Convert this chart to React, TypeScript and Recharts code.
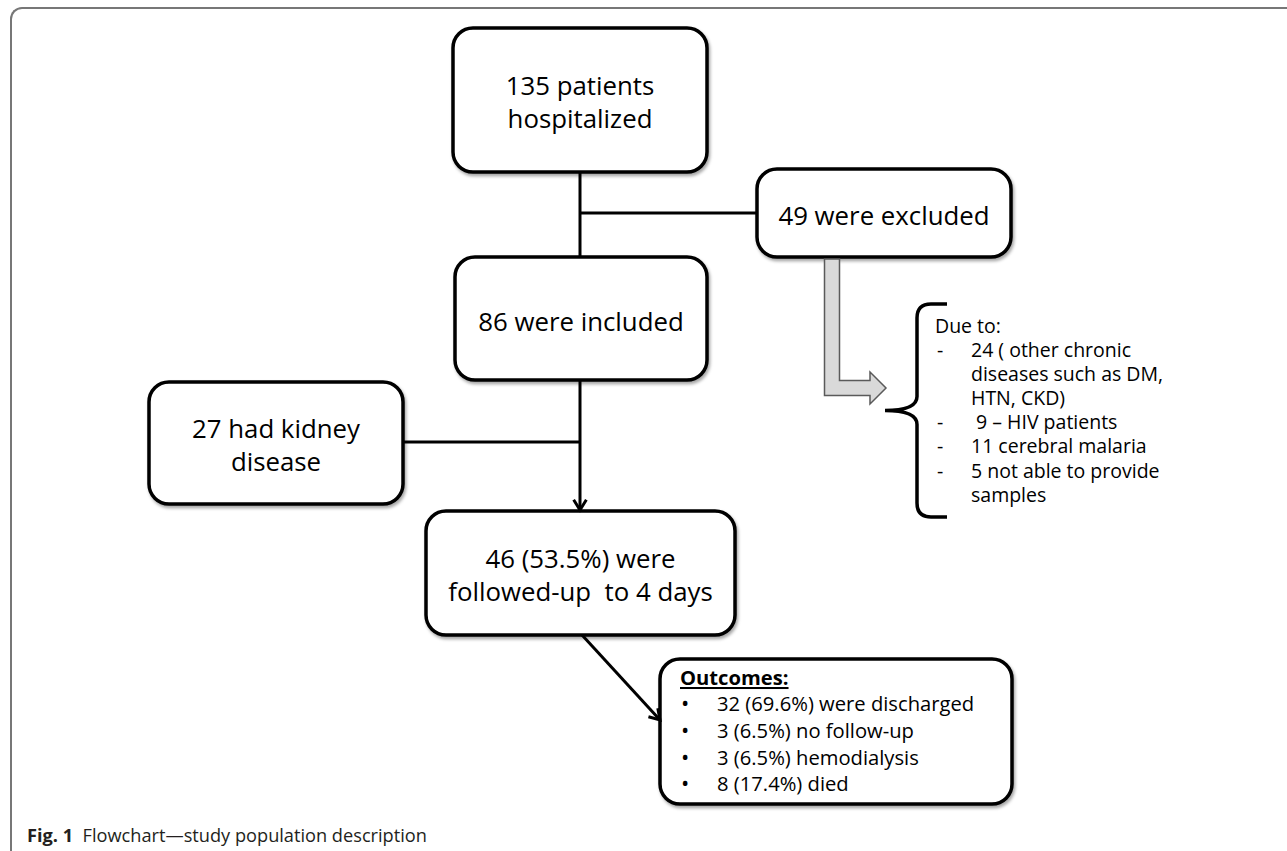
import { ScatterChart, XAxis, YAxis, ReferenceArea, ReferenceLine } from "recharts";

const W = 1287;
const H = 851;
const FONT = "'Open Sans', sans-serif";

// flow boxes (page coordinates, 1 unit = 1px)
const boxLeft = [453, 757, 455, 149, 426, 660];
const boxRight = [707, 1011, 707, 403, 735, 1012];
const boxTop = [28, 169, 257, 382, 511, 659];
const boxBottom = [172, 257, 380, 504, 635, 804];
const boxText = [
  ["135 patients", "hospitalized"],
  ["49 were excluded"],
  ["86 were included"],
  ["27 had kidney", "disease"],
  ["46 (53.5%) were", "followed-up  to 4 days"],
  [],
];

const outcomeTitle = "Outcomes:";
const outcomes = [
  "32 (69.6%) were discharged",
  "3 (6.5%) no follow-up",
  "3 (6.5%) hemodialysis",
  "8 (17.4%) died",
];

const exclusionTitle = "Due to:";
const exclusionDash = [true, false, false, true, true, true, false];
const exclusionText = [
  "24 ( other chronic",
  "diseases such as DM,",
  "HTN, CKD)",
  " 9 \u2013 HIV patients",
  "11 cerebral malaria",
  "5 not able to provide",
  "samples",
];

// connectors between boxes
const linkFrom = [[580, 172], [580, 213], [580, 380], [403, 442], [582, 635]];
const linkTo = [[580, 257], [757, 213], [580, 510], [580, 442], [660, 720]];
const linkArrow = [false, false, true, false, true];

const shadow = (
  <defs>
    <filter id="boxShadow" x="-10%" y="-10%" width="125%" height="130%">
      <feDropShadow dx="1.5" dy="2.5" stdDeviation="1.8" floodColor="#000" floodOpacity="0.35" />
    </filter>
  </defs>
);

const boxShape = (i: number) => (p: any) => {
  const { x, y, width, height } = p;
  const lines = boxText[i];
  const cx = x + width / 2;
  const cy = y + height / 2;
  const first = cy + 12 - (lines.length - 1) * 17.5;
  return (
    <g>
      {shadow}
      <rect x={x} y={y} width={width} height={height} rx={20} fill="#fff" stroke="#000" strokeWidth={3.5} filter="url(#boxShadow)" />
      {lines.map((t, k) => (
        <text key={k} x={cx} y={first + k * 33} textAnchor="middle" fontFamily={FONT} fontSize={25.8} fill="#000" style={{ whiteSpace: "pre" }}>
          {t}
        </text>
      ))}
      {i === 5 && (
        <g fontFamily={FONT} fontSize={20.2} fill="#000">
          <text x={x + 20} y={y + 26} fontWeight={700} textDecoration="underline">
            {outcomeTitle}
          </text>
          {outcomes.map((t, k) => (
            <g key={k}>
              <text x={x + 21} y={y + 52 + k * 26.8} fontSize={22}>{"\u2022"}</text>
              <text x={x + 57} y={y + 52 + k * 26.8}>{t}</text>
            </g>
          ))}
        </g>
      )}
    </g>
  );
};

const exclusionShape = (p: any) => {
  const { x, y } = p;
  return (
    <g fontFamily={FONT} fontSize={19.5} fill="#000">
      <text x={x} y={y + 20}>{exclusionTitle}</text>
      {exclusionText.map((t, k) => (
        <g key={k}>
          {exclusionDash[k] && <text x={x + 2} y={y + 44 + k * 24.1}>-</text>}
          <text x={x + 36} y={y + 44 + k * 24.1} style={{ whiteSpace: "pre" }}>{t}</text>
        </g>
      ))}
    </g>
  );
};

const linkShape = (arrow: boolean) => (p: any) => {
  const { x1, y1, x2, y2 } = p;
  const a = Math.atan2(y2 - y1, x2 - x1);
  const L = 12;
  const th = (32 * Math.PI) / 180;
  const ax = x2 - L * Math.cos(a - th);
  const ay = y2 - L * Math.sin(a - th);
  const bx = x2 - L * Math.cos(a + th);
  const by = y2 - L * Math.sin(a + th);
  return (
    <g stroke="#000" strokeWidth={3} fill="none">
      <line x1={x1} y1={y1} x2={x2} y2={y2} />
      {arrow && <polyline points={`${ax},${ay} ${x2},${y2} ${bx},${by}`} strokeLinejoin="miter" />}
    </g>
  );
};

// gray elbow arrow: start at (x1,y1), bend at x1/y2, tip at (x2,y2)
const blockArrowShape = (p: any) => {
  const { x1, y1, x2, y2 } = p;
  const h = 7.5;
  const hx = x2 - 16;
  const pts = [
    [x1 - h, y1],
    [x1 + h, y1],
    [x1 + h, y2 - h],
    [hx, y2 - h],
    [hx, y2 - 16],
    [x2, y2],
    [hx, y2 + 16],
    [hx, y2 + h],
    [x1 - h, y2 + h],
  ];
  return <polygon points={pts.map((q) => q.join(",")).join(" ")} fill="#d9d9d9" stroke="#5a5a5a" strokeWidth={1.5} />;
};

// curly brace: tip at x1, ends at x2, from y1 to y2
const braceShape = (p: any) => {
  const { x1, y1, x2, y2 } = p;
  const sx = x1 + 32;
  const ym = (y1 + y2) / 2;
  const r = 14;
  const d = `M${x2},${y1} L${sx + r},${y1} Q${sx},${y1} ${sx},${y1 + r} L${sx},${ym - r} Q${sx},${ym} ${x1},${ym} Q${sx},${ym} ${sx},${ym + r} L${sx},${y2 - r} Q${sx},${y2} ${sx + r},${y2} L${x2},${y2}`;
  return <path d={d} fill="none" stroke="#000" strokeWidth={3.5} />;
};

export default function App() {
  return (
    <div style={{ position: "relative", width: W, height: H, background: "#fff", overflow: "hidden" }}>
      <style>{`body{margin:0}`}</style>
      <div
        style={{
          position: "absolute",
          left: 10,
          top: 7,
          width: W - 10,
          height: H - 7,
          boxSizing: "border-box",
          borderTop: "2px solid #777",
          borderLeft: "2px solid #777",
          borderTopLeftRadius: 12,
        }}
      />
      <div
        style={{
          position: "absolute",
          left: 27,
          top: 823,
          fontFamily: FONT,
          fontSize: 18.2,
          color: "#231f20",
          whiteSpace: "pre",
        }}
      >
        <b>Fig. 1</b>
        {"  Flowchart\u2014study population description"}
      </div>
      <div style={{ position: "absolute", left: 0, top: 0 }}>
        <ScatterChart width={W} height={H} margin={{ top: 0, right: 0, bottom: 0, left: 0 }}>
          <XAxis type="number" dataKey="x" domain={[0, W]} allowDataOverflow hide />
          <YAxis type="number" dataKey="y" domain={[0, H]} allowDataOverflow reversed hide />
          <ReferenceLine segment={[{ x: 832, y: 259 }, { x: 886, y: 388 }]} shape={blockArrowShape} />
          <ReferenceLine segment={[{ x: 885, y: 304 }, { x: 947, y: 517 }]} shape={braceShape} />
          {linkFrom.map((f, i) => (
            <ReferenceLine
              key={`l${i}`}
              segment={[{ x: f[0], y: f[1] }, { x: linkTo[i][0], y: linkTo[i][1] }]}
              shape={linkShape(linkArrow[i])}
            />
          ))}
          {boxLeft.map((l, i) => (
            <ReferenceArea key={`b${i}`} x1={l} x2={boxRight[i]} y1={boxTop[i]} y2={boxBottom[i]} shape={boxShape(i)} />
          ))}
          <ReferenceArea x1={935} x2={1200} y1={313} y2={505} shape={exclusionShape} />
        </ScatterChart>
      </div>
    </div>
  );
}
